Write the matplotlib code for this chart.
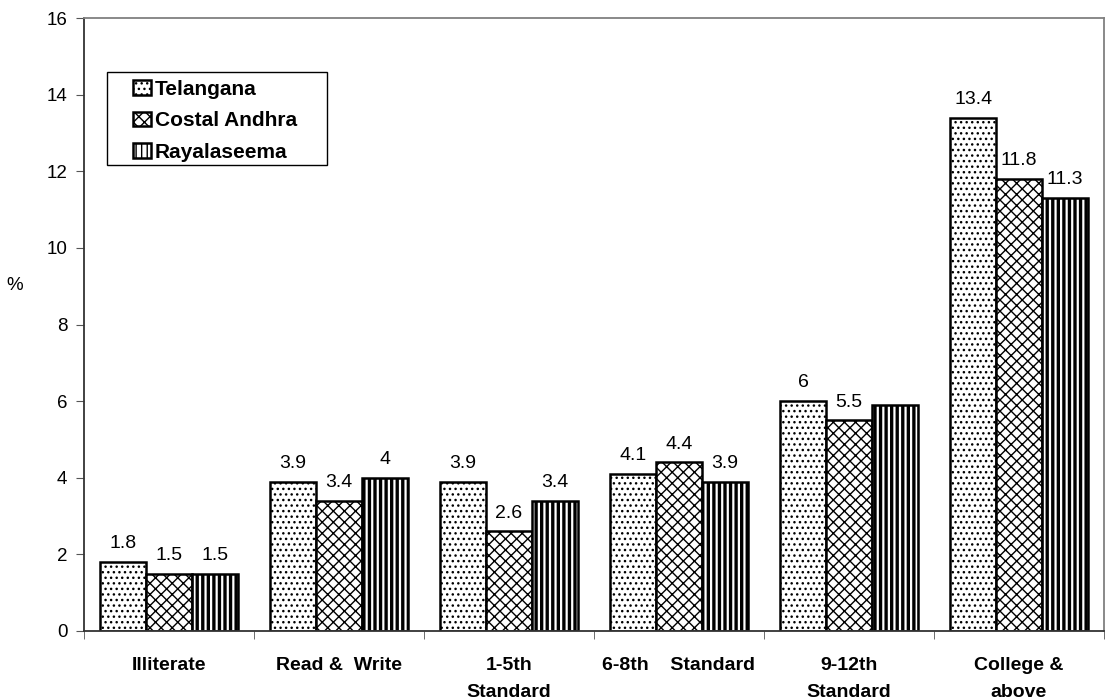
import numpy as np
import matplotlib
matplotlib.use('Agg')
import matplotlib.pyplot as plt
from matplotlib.patches import Rectangle

plt.rcParams['font.family'] = ['Liberation Sans', 'DejaVu Sans']

# 数据
categories = ['Illiterate', 'Read &  Write', '1-5th\nStandard', '6-8th    Standard',
              '9-12th\nStandard', 'College &\nabove']
telangana = [1.8, 3.9, 3.9, 4.1, 6.0, 13.4]
costal_andhra = [1.5, 3.4, 2.6, 4.4, 5.5, 11.8]
rayalaseema = [1.5, 4.0, 3.4, 3.9, 5.9, 11.3]
rayalaseema_labels = ['1.5', '4', '3.4', '3.9', '', '11.3']

# 名称, 数值, 填充图案, 图案线宽
series = [
    ('Telangana', telangana, '...', 1.0),
    ('Costal Andhra', costal_andhra, 'xxx', 1.0),
    ('Rayalaseema', rayalaseema, '|||', 2.4),
]

fig = plt.figure(figsize=(11.12, 7.0), dpi=100)
ax = fig.add_axes([0.0755, 0.0986, 0.9173, 0.8754])

x = np.arange(len(categories))
w = 0.27
for i, (name, vals, hatch, hlw) in enumerate(series):
    with plt.rc_context({'hatch.linewidth': hlw}):
        bars = ax.bar(x + (i - 1) * w, vals, w, facecolor='white', edgecolor='black',
                      linewidth=1.8, hatch=hatch, label=name)
    for b in bars:
        if hasattr(b, 'set_hatch_linewidth'):
            b.set_hatch_linewidth(hlw)
    if name == 'Rayalaseema':
        labels = rayalaseema_labels
    else:
        labels = [f'{v:g}' for v in vals]
    ax.bar_label(bars, labels=labels, padding=7, fontsize=14)

ax.set_xlim(-0.5, len(categories) - 0.5)
ax.set_ylim(0, 16)
ax.set_yticks(np.arange(0, 17, 2))
ax.set_xticks(np.arange(len(categories) + 1) - 0.5, minor=True)
ax.set_xticks(x)
ax.set_xticklabels(categories, fontsize=14, fontweight='bold', linespacing=1.75)
ax.tick_params(axis='x', which='major', length=0, pad=19)
ax.tick_params(axis='x', which='minor', length=6, direction='out', color='#555555')
ax.tick_params(axis='y', labelsize=13.5, length=6, direction='out', color='#555555', pad=6)

for side in ['top', 'right']:
    ax.spines[side].set_color('#808080')
    ax.spines[side].set_linewidth(1.3)
for side in ['left', 'bottom']:
    ax.spines[side].set_color('#333333')
    ax.spines[side].set_linewidth(1.3)

ax.set_ylabel('%', rotation=0, fontsize=13.5)
ax.yaxis.set_label_coords(-0.068, 0.55)

# 图例（边框单独画）
leg = ax.legend(loc='upper left', bbox_to_anchor=(0.1196, 0.886),
                bbox_transform=fig.transFigure,
                prop={'weight': 'bold', 'size': 15}, frameon=False,
                handlelength=0.85, handleheight=0.7, handletextpad=0.2,
                borderpad=0, labelspacing=0.6, borderaxespad=0)
fig.patches.append(Rectangle((107 / 1112, 1 - 165 / 700), 220 / 1112, 93 / 700,
                             transform=fig.transFigure, fill=False,
                             edgecolor='black', linewidth=1.0))

plt.savefig('out.png', dpi=100)
